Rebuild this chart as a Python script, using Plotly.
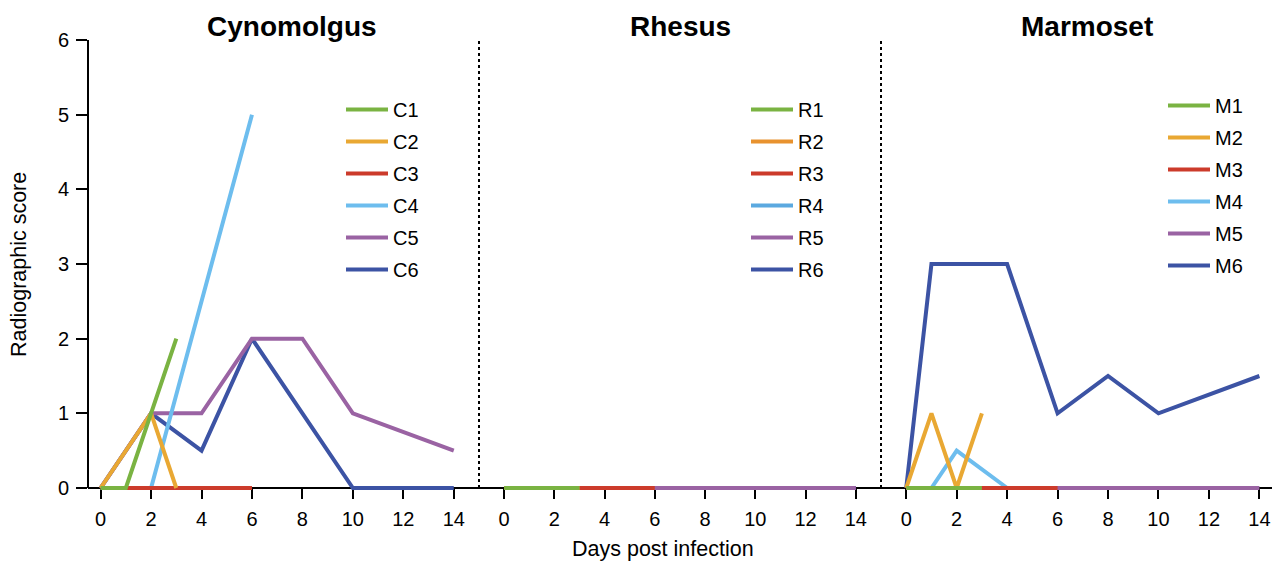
import plotly.graph_objects as go

# ---------------- data ----------------
colors = ["#7ab342", "#e9a833", "#cc3b2b", "#6dbdee", "#9a63a3", "#3c53a4"]
colors_rh = ["#7ab342", "#e8922f", "#cc3b2b", "#5ba9e0", "#9a63a3", "#3c53a4"]

panel_titles = ["Cynomolgus", "Rhesus", "Marmoset"]
x_ticks = [0, 2, 4, 6, 8, 10, 12, 14]
y_ticks = [0, 1, 2, 3, 4, 5, 6]

# Cynomolgus
C_names = ["C1", "C2", "C3", "C4", "C5", "C6"]
C_days = [
    [0, 1, 2, 3],
    [0, 2, 3],
    [0, 2, 4, 6],
    [0, 2, 6],
    [0, 2, 4, 6, 8, 10, 14],
    [0, 2, 4, 6, 8, 10, 14],
]
C_vals = [
    [0, 0, 1, 2],
    [0, 1, 0],
    [0, 0, 0, 0],
    [0, 0, 5],
    [0, 1, 1, 2, 2, 1, 0.5],
    [0, 1, 0.5, 2, 1, 0, 0],
]

# Rhesus
R_names = ["R1", "R2", "R3", "R4", "R5", "R6"]
R_days = [
    [0, 1, 2, 3],
    [0, 1, 2, 3],
    [0, 2, 4, 6],
    [0, 2, 4, 6],
    [0, 2, 4, 6, 8, 10, 12, 14],
    [0, 2, 4, 6, 8, 10, 12, 14],
]
R_vals = [
    [0, 0, 0, 0],
    [0, 0, 0, 0],
    [0, 0, 0, 0],
    [0, 0, 0, 0],
    [0, 0, 0, 0, 0, 0, 0, 0],
    [0, 0, 0, 0, 0, 0, 0, 0],
]

# Marmoset
M_names = ["M1", "M2", "M3", "M4", "M5", "M6"]
M_days = [
    [0, 1, 2, 3],
    [0, 1, 2, 3],
    [0, 2, 4, 6],
    [0, 1, 2, 4],
    [0, 2, 4, 6, 8, 10, 12, 14],
    [0, 1, 2, 3, 4, 6, 8, 10, 14],
]
M_vals = [
    [0, 0, 0, 0],
    [0, 1, 0, 1],
    [0, 0, 0, 0],
    [0, 0, 0.5, 0],
    [0, 0, 0, 0, 0, 0, 0, 0],
    [0, 3, 3, 3, 3, 1, 1.5, 1, 1.5],
]

# ---------------- figure ----------------
FONT = "Liberation Sans, Arial, Helvetica, sans-serif"
W, H = 1275, 567
EXT = 4                      # extra px below y=0 so lines on the baseline are not clipped
ML, MR, MT, MB = 88, 3, 40, 79 - EXT
PW = W - ML - MR
PH = H - MT - MB
Y_UNIT = (PH - EXT) / 6.0

def px_x(p):
    return (p - ML) / PW

def px_y(p):
    return 1 - (p - MT) / PH

b1 = px_x(479)
b2 = px_x(881)
domains = [[0, b1], [b1, b2], [b2, 1]]
ranges = [[-0.5, 15], [-1, 15], [-1, 14.5]]
base_pos = EXT / PH

fig = go.Figure()
panels = [
    (C_names, C_days, C_vals, colors, "x", "legend"),
    (R_names, R_days, R_vals, colors_rh, "x2", "legend2"),
    (M_names, M_days, M_vals, colors, "x3", "legend3"),
]
for names, days, vals, cols, xa, lg in panels:
    for i in reversed(range(len(names))):
        fig.add_trace(go.Scatter(
            x=days[i], y=vals[i], mode="lines", name=names[i],
            line=dict(color=cols[i], width=4),
            xaxis=xa, yaxis="y", legend=lg, legendrank=i + 1,
            legendgroup=names[i],
            hoverinfo="x+y+name",
        ))

axis_common = dict(
    showline=True, linecolor="black", linewidth=2,
    ticks="outside", ticklen=10, tickwidth=2, tickcolor="black",
    tickvals=x_ticks, showgrid=False, zeroline=False,
    tickfont=dict(family=FONT, size=20, color="black"),
    anchor="free", position=base_pos, layer="below traces", fixedrange=True,
    ticklabelstandoff=3,
)

legend_common = dict(
    font=dict(family=FONT, size=20, color="black"),
    bgcolor="rgba(0,0,0,0)", borderwidth=0,
    traceorder="grouped", tracegroupgap=3,
    xanchor="left", yanchor="top", itemwidth=42,
)

fig.update_layout(
    width=W, height=H,
    margin=dict(l=ML, r=MR, t=MT, b=MB),
    paper_bgcolor="white", plot_bgcolor="white",
    font=dict(family=FONT, color="black"),
    xaxis=dict(domain=domains[0], range=ranges[0], **axis_common),
    xaxis2=dict(domain=domains[1], range=ranges[1], **axis_common),
    xaxis3=dict(domain=domains[2], range=ranges[2], **axis_common),
    yaxis=dict(
        domain=[0, 1], range=[-EXT / Y_UNIT, 6], tickvals=y_ticks,
        showline=False,
        ticks="outside", ticklen=11, tickwidth=2, tickcolor="black",
        showgrid=False, zeroline=False, anchor="x",
        tickfont=dict(family=FONT, size=20, color="black"),
        layer="below traces", fixedrange=True, ticklabelstandoff=3,
    ),
    legend=dict(x=px_x(341), y=px_y(90), **legend_common),
    legend2=dict(x=px_x(746), y=px_y(90), **legend_common),
    legend3=dict(x=px_x(1163), y=px_y(86), **legend_common),
    showlegend=True,
)

# y axis line (from 0 to 6)
fig.add_shape(type="line", xref="paper", yref="y", x0=0, x1=0, y0=0, y1=6,
              line=dict(color="black", width=2), layer="below")

# panel separators (dotted)
for b in (b1, b2):
    fig.add_shape(type="line", xref="paper", yref="y",
                  x0=b, x1=b, y0=0, y1=6,
                  line=dict(color="black", width=2, dash="dot"))

# panel titles
title_x = [px_x(292), px_x(680), px_x(1087)]
for t, xx in zip(panel_titles, title_x):
    fig.add_annotation(text="<b>" + t + "</b>", xref="paper", yref="paper",
                       x=xx, y=px_y(27), showarrow=False,
                       font=dict(family=FONT, size=28, color="black"),
                       xanchor="center", yanchor="middle")

fig.add_annotation(text="Days post infection", xref="paper", yref="paper",
                   x=px_x(663), y=px_y(549), showarrow=False,
                   font=dict(family=FONT, size=21.5, color="black"),
                   xanchor="center", yanchor="middle")
fig.add_annotation(text="Radiographic score", xref="paper", yref="paper",
                   x=px_x(19), y=px_y(265), showarrow=False, textangle=-90,
                   font=dict(family=FONT, size=21.5, color="black"),
                   xanchor="center", yanchor="middle")

fig.write_html("out.html")
